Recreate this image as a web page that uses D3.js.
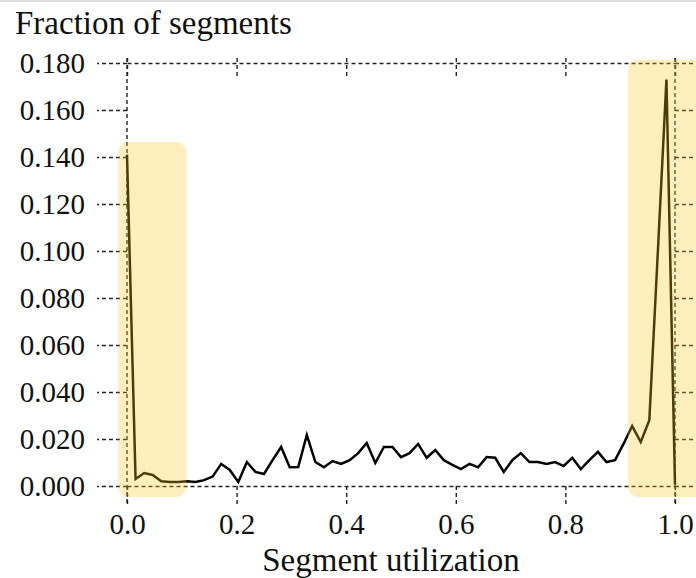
<!DOCTYPE html>
<html>
<head>
<meta charset="utf-8">
<script src="https://d3js.org/d3.v7.min.js"></script>
<style>
  body { margin: 0; background: #fff; }
  svg text { font-family: "Liberation Serif", "Times New Roman", serif; fill: #111; }
  .frame line, .frame path { stroke: #222; stroke-width: 1.4; stroke-dasharray: 4 3; fill: none; }
</style>
</head>
<body>
<svg id="chart" width="696" height="578"></svg>
<script>
  // fraction of segments per utilization bin (65 bins, step 1/64)
  const fractions = [
    0.141, 0.003, 0.0055, 0.0047, 0.002, 0.0017, 0.0017, 0.002, 0.0017, 0.0025,
    0.004, 0.0094, 0.0068, 0.0017, 0.0102, 0.006, 0.0051, 0.011, 0.0166, 0.008,
    0.0081, 0.0217, 0.0102, 0.008, 0.0106, 0.0094, 0.011, 0.014, 0.0183, 0.0098,
    0.0166, 0.0166, 0.0123, 0.014, 0.0179, 0.012, 0.0153, 0.011, 0.009, 0.0072,
    0.0094, 0.008, 0.0123, 0.012, 0.006, 0.011, 0.014, 0.0102, 0.0102, 0.0094,
    0.0102, 0.0085, 0.012, 0.0072, 0.011, 0.0145, 0.0102, 0.011, 0.018, 0.0255,
    0.0187, 0.028, 0.100, 0.173, 0.0005
  ];
  const utilization = fractions.map((d, i) => i / 64);
  const yTicks = [0, 0.02, 0.04, 0.06, 0.08, 0.10, 0.12, 0.14, 0.16, 0.18];
  const xTicks = [0, 0.2, 0.4, 0.6, 0.8, 1.0];
  // highlighted regions [x0, x1, y0, y1]
  const highlights = [
    [-0.016, 0.109, -0.0047, 0.1464],
    [0.914, 1.06, -0.0047, 0.1815]
  ];

  const svg = d3.select("#chart");
  const mLeft = 127, mRight = 675, mTop = 63, mBottom = 486;

  const x = d3.scaleLinear().domain([0, 1]).range([mLeft, mRight]);
  const y = d3.scaleLinear().domain([0, 0.18]).range([mBottom, mTop]);

  svg.append("line").attr("x1", 0).attr("x2", 696).attr("y1", 1).attr("y2", 1)
    .attr("stroke", "#ddd").attr("stroke-width", 2);

  // frame axes
  const fmtY = d3.format(".3f"), fmtX = d3.format(".1f");
  const gl = svg.append("g").attr("class", "frame").attr("transform", `translate(${mLeft},0)`)
    .call(d3.axisLeft(y).tickValues(yTicks).tickSize(30).tickSizeOuter(0).tickFormat(fmtY));
  const gr = svg.append("g").attr("class", "frame").attr("transform", `translate(${mRight},0)`)
    .call(d3.axisRight(y).tickValues(yTicks).tickSize(30).tickSizeOuter(0).tickFormat(""));
  const gb = svg.append("g").attr("class", "frame").attr("transform", `translate(0,${mBottom})`)
    .call(d3.axisBottom(x).tickValues(xTicks).tickSize(18).tickSizeOuter(0).tickFormat(fmtX));
  const gt = svg.append("g").attr("class", "frame").attr("transform", `translate(0,${mTop})`)
    .call(d3.axisTop(x).tickValues(xTicks).tickSize(0).tickSizeOuter(0).tickFormat(""));
  gt.selectAll(".tick line").attr("y1", -5).attr("y2", 14);

  // extend vertical borders a little above and below
  gl.select(".domain").attr("d", `M0,${mTop - 5}V${mBottom + 19}`);
  gr.select(".domain").attr("d", `M0,${mTop - 5}V${mBottom + 19}`);

  gl.selectAll(".tick text").attr("x", -42).attr("dy", "0.33em")
    .style("font-size", "29px");
  gb.selectAll(".tick text").attr("y", 27).attr("dy", "0.71em")
    .style("font-size", "29px");
  svg.selectAll(".frame .tick text").attr("fill", "#111");

  // data line
  const line = d3.line().x((d, i) => x(utilization[i])).y(d => y(d));
  svg.append("path").datum(fractions)
    .attr("d", line)
    .attr("fill", "none")
    .attr("stroke", "#000")
    .attr("stroke-width", 2.5)
    .attr("stroke-linejoin", "miter");

  // highlight boxes on top
  svg.selectAll("rect.hl").data(highlights).join("rect")
    .attr("class", "hl")
    .attr("x", d => x(d[0])).attr("width", d => x(d[1]) - x(d[0]))
    .attr("y", d => y(d[3])).attr("height", d => y(d[2]) - y(d[3]))
    .attr("rx", 11).attr("ry", 11)
    .attr("fill", "rgba(255, 200, 40, 0.3)");

  svg.append("text").attr("x", 15).attr("y", 34)
    .style("font-size", "33px").text("Fraction of segments");
  svg.append("text").attr("x", 391).attr("y", 571).attr("text-anchor", "middle")
    .style("font-size", "33px").text("Segment utilization");
</script>
</body>
</html>
